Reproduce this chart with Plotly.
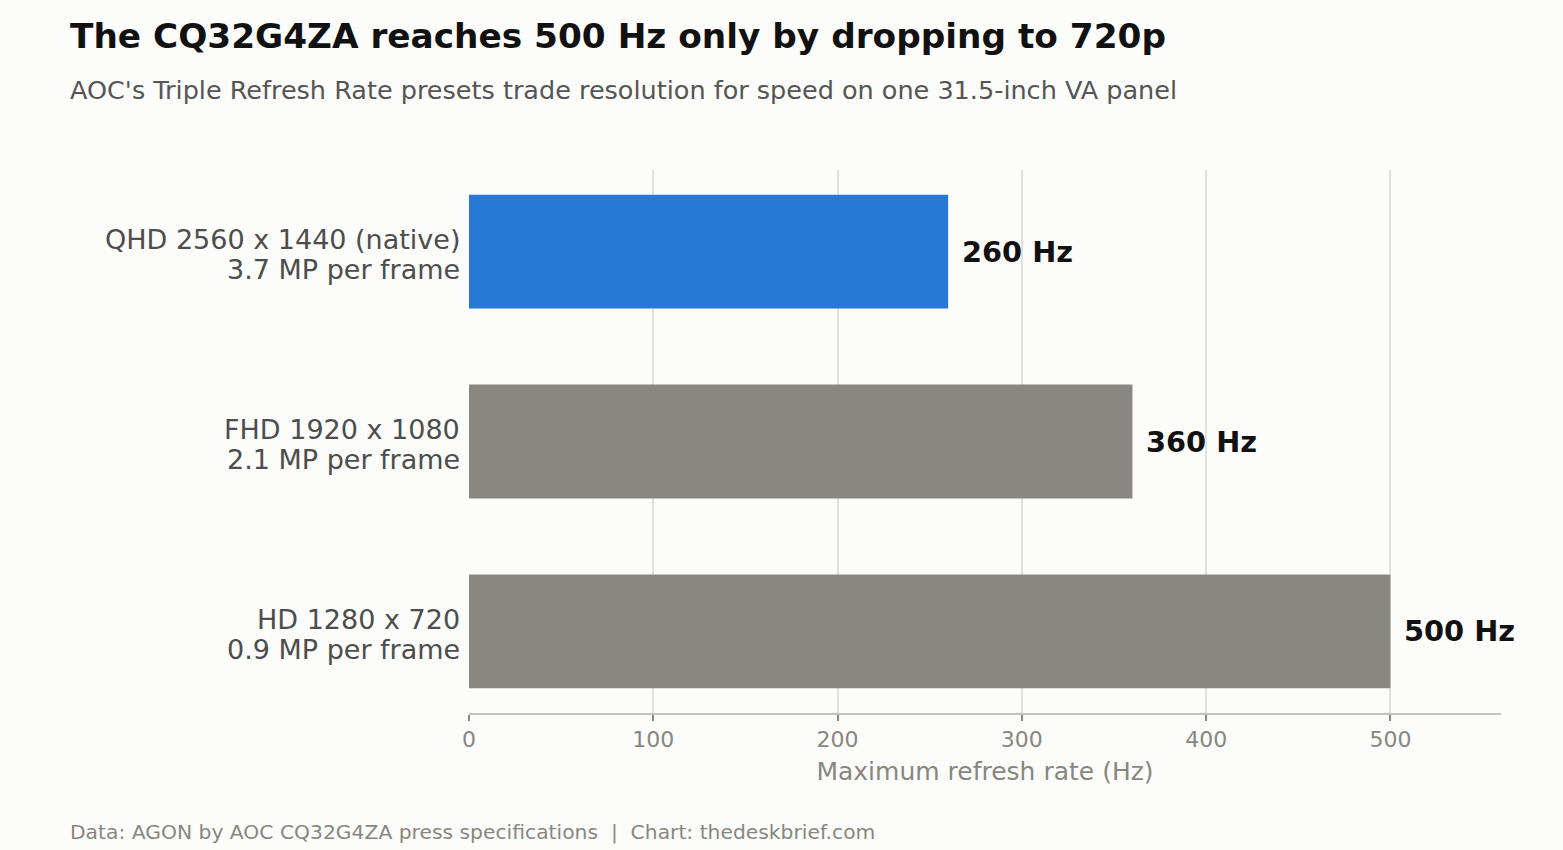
import plotly.graph_objects as go

res_labels = ["QHD 2560 x 1440 (native)", "FHD 1920 x 1080", "HD 1280 x 720"]
mp_labels = ["3.7 MP per frame", "2.1 MP per frame", "0.9 MP per frame"]
refresh_hz = [260, 360, 500]
value_labels = ["260 Hz", "360 Hz", "500 Hz"]
bar_colors = ["#2878d6", "#898782", "#898782"]

BG = "#fcfcfa"
FONT = "DejaVu Sans"
LEFT_X = (68 - 469) / 1032  # paper x of the left text column

fig = go.Figure()
fig.add_trace(go.Bar(
    x=refresh_hz, y=res_labels, orientation="h",
    marker=dict(color=bar_colors, line_width=0),
    width=0.6, hoverinfo="skip",
))

for v, c, t in zip(refresh_hz, res_labels, value_labels):
    fig.add_annotation(x=v, y=c, text="<b>%s</b>" % t, showarrow=False,
                       xanchor="left", xshift=12,
                       font=dict(family=FONT, size=28.8, color="#111111"))

# two-line category labels, drawn line by line to get matplotlib-like spacing
for c, m in zip(res_labels, mp_labels):
    for line, dy in ((c, 12), (m, -18)):
        fig.add_annotation(xref="paper", x=0, y=c, text=line, showarrow=False,
                           xanchor="right", yanchor="middle", xshift=-7, yshift=dy,
                           font=dict(family=FONT, size=27, color="#4d4d4d"))

fig.update_layout(
    width=1563, height=850,
    paper_bgcolor=BG, plot_bgcolor=BG,
    margin=dict(l=469, r=62, t=170, b=137),
    font=dict(family=FONT),
    showlegend=False,
    bargap=0.4,
)
fig.update_xaxes(
    range=[0, 560], dtick=100, showgrid=True, gridcolor="#e2e1dc", gridwidth=2,
    zeroline=False, showline=True, linecolor="#c4c3bb", linewidth=2,
    ticks="outside", ticklen=6, tickcolor="#88877f", tickwidth=2,
    tickfont=dict(size=22, color="#88877f"),
    title=dict(text="Maximum refresh rate (Hz)", font=dict(size=25, color="#88877f"), standoff=11),
)
fig.update_yaxes(
    range=[2.43, -0.43], showgrid=False, zeroline=False, showline=False,
    ticks="", showticklabels=False,
)

# title, subtitle, footer
fig.add_annotation(xref="paper", yref="paper", x=LEFT_X, y=1.2468, xanchor="left", yanchor="middle",
                   text="<b>The CQ32G4ZA reaches 500 Hz only by dropping to 720p</b>", showarrow=False,
                   font=dict(size=34.3, color="#111111"))
fig.add_annotation(xref="paper", yref="paper", x=LEFT_X, y=1.147, xanchor="left", yanchor="middle",
                   text="AOC's Triple Refresh Rate presets trade resolution for speed on one 31.5-inch VA panel",
                   showarrow=False, font=dict(size=25.5, color="#555555"))
fig.add_annotation(xref="paper", yref="paper", x=LEFT_X, y=-0.219, xanchor="left", yanchor="middle",
                   text="Data: AGON by AOC CQ32G4ZA press specifications  |  Chart: thedeskbrief.com",
                   showarrow=False, font=dict(size=20.3, color="#88877f"))

fig.write_html("out.html", config={"displayModeBar": False},
               post_script="document.body.style.margin='0';document.body.style.background='%s';" % BG)
